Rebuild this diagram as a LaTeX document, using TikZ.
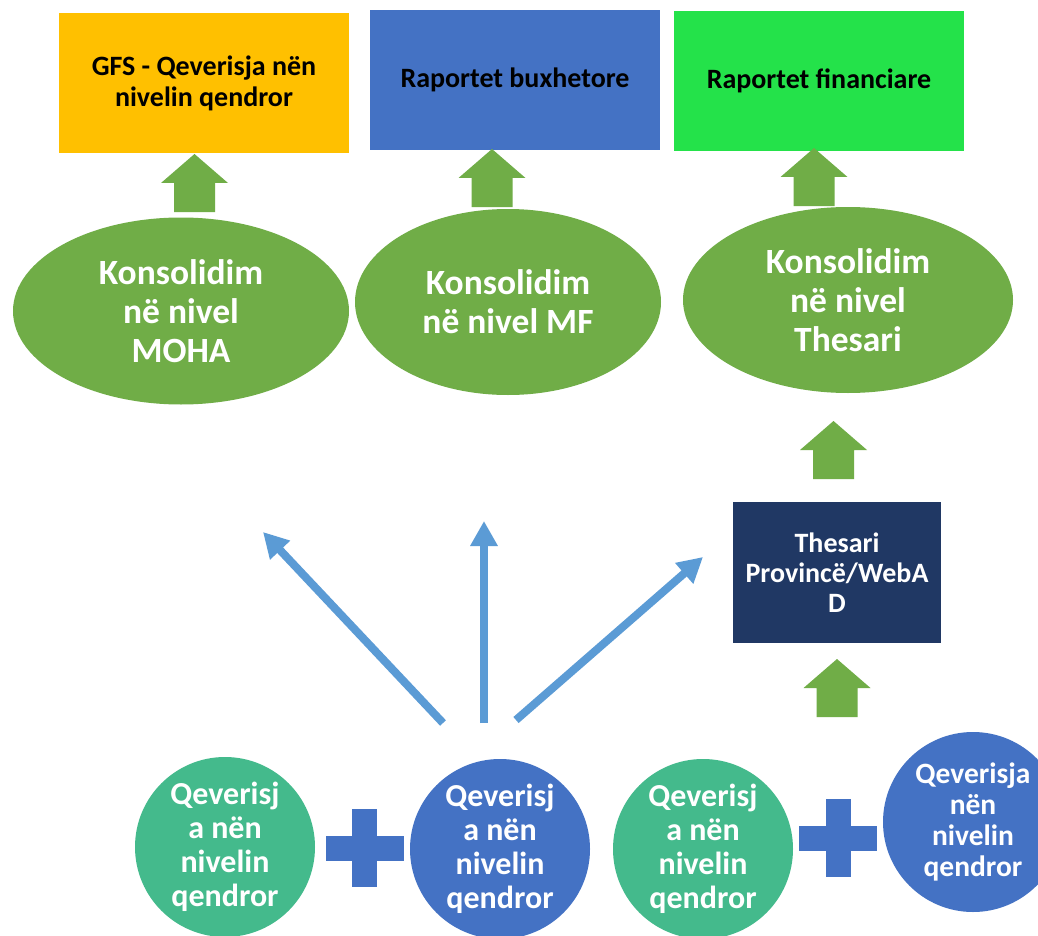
\documentclass[tikz,border=0pt]{standalone}
\usepackage{fontspec}
\setmainfont{Carlito}
\usetikzlibrary{shapes.geometric,arrows.meta}
\definecolor{cOrange}{HTML}{FFC000}
\definecolor{cBlue}{HTML}{4472C4}
\definecolor{cLime}{HTML}{24E24A}
\definecolor{cNavy}{HTML}{203864}
\definecolor{cOlive}{HTML}{70AD47}
\definecolor{cTeal}{HTML}{44BA8C}
\definecolor{cSky}{HTML}{5B9BD5}
\tikzset{
  topbox/.style={rectangle, minimum width=290pt, minimum height=140pt, inner sep=0pt, align=center, text=black, font=\bfseries\fontsize{28}{31}\selectfont},
  consol/.style={ellipse, fill=cOlive, inner sep=0pt, align=center, text=white, font=\bfseries\fontsize{35.5}{39}\selectfont},
  govcirc/.style={circle, minimum size=180pt, inner sep=0pt, align=center, text=white, font=\bfseries\fontsize{32}{34}\selectfont},
  skyarrow/.style={draw=cSky, line width=8pt, -{Triangle[length=25pt,width=26pt]}},
  blockup/.pic={\fill[cOlive] (-20.5,0) -- (-20.5,-29) -- (-33.5,-29) -- (0,-58) -- (33.5,-29) -- (20.5,-29) -- (20.5,0) -- cycle;},
  plusbar/.pic={\fill[cBlue] (-39,-12.5) rectangle (39,12.5); \fill[cBlue] (-12.5,-39) rectangle (12.5,39);}
}
\begin{document}
\begin{tikzpicture}[x=1pt,y=-1pt]
\useasboundingbox (0,0) rectangle (1038,936);
\clip (0,0) rectangle (1038,936);
\fill[white] (0,0) rectangle (1038,936);
% top boxes
\node[topbox, fill=cOrange] (gfs) at (204,83) {GFS - Qeverisja nën\\nivelin qendror};
\node[topbox, fill=cBlue] (rbux) at (515,80) {Raportet buxhetore};
\node[topbox, fill=cLime] (rfin) at (819,81) {Raportet financiare};
% ellipses
\node[consol, minimum width=336pt, minimum height=187pt] (moha) at (181,311) {Konsolidim\\në nivel\\MOHA};
\node[consol, minimum width=306pt, minimum height=186pt] (mf) at (508,302) {Konsolidim\\në nivel MF};
\node[consol, minimum width=330pt, minimum height=186pt] (thes) at (848,300) {Konsolidim\\në nivel\\Thesari};
% treasury box
\node[rectangle, fill=cNavy, minimum width=208pt, minimum height=141pt, inner sep=0pt, align=center, text=white, font=\bfseries\fontsize{28}{30}\selectfont] (prov) at (837,572.5) {Thesari\\Provincë/WebA\\D};
% circles
\node[govcirc, fill=cTeal] (g1) at (225,847) {Qeverisj\\a nën\\nivelin\\qendror};
\node[govcirc, fill=cBlue] (g2) at (500,849) {Qeverisj\\a nën\\nivelin\\qendror};
\node[govcirc, fill=cTeal] (g3) at (703,849) {Qeverisj\\a nën\\nivelin\\qendror};
\node[govcirc, fill=cBlue, font=\bfseries\fontsize{29.5}{31}\selectfont] (g4) at (973,822) {Qeverisja\\nën\\nivelin\\qendror};
% plus signs
\pic at (364.5,848) {plusbar};
\pic at (838,838) {plusbar};
% green block arrows
\pic at (194.5,212) {blockup};
\pic at (492,207) {blockup};
\pic at (814,206) {blockup};
\pic at (833.5,479) {blockup};
\pic at (837,717) {blockup};
% blue arrows
\coordinate (tA) at (443,723);
\coordinate (hA) at (263,532);
\coordinate (tB) at (484,723);
\coordinate (hB) at (484,521);
\coordinate (tC) at (516,720);
\coordinate (hC) at (703,557);
\draw[skyarrow] (tA) -- (hA);
\draw[skyarrow] (tB) -- (hB);
\draw[skyarrow] (tC) -- (hC);
\end{tikzpicture}
\end{document}
